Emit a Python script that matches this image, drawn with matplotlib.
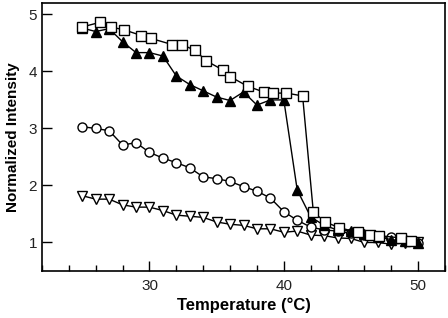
import matplotlib
matplotlib.use("Agg")
import matplotlib.pyplot as plt
from matplotlib.ticker import MultipleLocator

plt.rcParams['font.family'] = ['Liberation Sans', 'DejaVu Sans']

# open squares
sq_t = [25.0, 26.3, 27.1, 28.1, 29.4, 30.1, 31.7, 32.4, 33.4, 34.2, 35.5, 36.0, 37.3,
        38.5, 39.2, 40.2, 41.4, 42.2, 43.1, 44.1, 45.5, 46.4, 47.1, 48.7, 49.5]
sq_y = [4.78, 4.86, 4.78, 4.73, 4.63, 4.58, 4.47, 4.47, 4.37, 4.19, 4.02, 3.91, 3.74,
        3.64, 3.62, 3.62, 3.57, 1.53, 1.36, 1.26, 1.18, 1.13, 1.12, 1.08, 1.03]

# filled triangles
tri_t = list(range(25, 51))
tri_y = [4.76, 4.70, 4.75, 4.52, 4.33, 4.33, 4.27, 3.92, 3.77, 3.66, 3.55, 3.49, 3.64,
         3.41, 3.50, 3.50, 1.92, 1.45, 1.30, 1.22, 1.20, 1.15, 1.10, 1.05, 1.02, 0.99]

# open circles
cir_t = list(range(25, 51))
cir_y = [3.03, 3.00, 2.96, 2.71, 2.75, 2.58, 2.48, 2.40, 2.31, 2.15, 2.12, 2.07, 1.98,
         1.90, 1.78, 1.54, 1.39, 1.27, 1.22, 1.20, 1.16, 1.13, 1.10, 1.09, 1.05, 0.99]

# open down triangles
dn_t = list(range(25, 51))
dn_y = [1.82, 1.76, 1.76, 1.66, 1.62, 1.62, 1.56, 1.48, 1.46, 1.44, 1.36, 1.32, 1.30,
        1.24, 1.24, 1.18, 1.20, 1.13, 1.12, 1.08, 1.07, 1.00, 1.00, 0.97, 0.99, 1.00]

fig = plt.figure(figsize=(4.48, 3.18), dpi=100)
ax = fig.add_axes([42 / 448, 1 - 271 / 318, (445 - 42) / 448, (271 - 3) / 318])

kw = dict(color='black', lw=1.0, mec='black', mew=1.0)
ax.plot(dn_t, dn_y, marker='v', ms=6.5, mfc='white', **kw)
ax.plot(cir_t, cir_y, marker='o', ms=6.5, mfc='white', **kw)
ax.plot(tri_t, tri_y, marker='^', ms=6.5, mfc='black', **kw)
ax.plot(sq_t, sq_y, marker='s', ms=7, mfc='white', **kw)

ax.set_xlim(22, 52)
ax.set_ylim(0.5, 5.2)
ax.xaxis.set_major_locator(MultipleLocator(10))
ax.xaxis.set_minor_locator(MultipleLocator(2))
ax.yaxis.set_major_locator(MultipleLocator(1))
ax.tick_params(which='both', direction='in', labelsize=11, width=1, labelcolor='#222222')
ax.tick_params(which='major', length=7)
ax.tick_params(which='minor', length=4)
ax.tick_params(axis='x', pad=6)
for s in ax.spines.values():
    s.set_linewidth(1.2)

ax.set_xlabel('Temperature (°C)', fontsize=12, fontweight='bold', labelpad=3)
ax.set_ylabel('Normalized Intensity', fontsize=11, fontweight='bold', labelpad=6)

fig.savefig('out.png', dpi=100)
